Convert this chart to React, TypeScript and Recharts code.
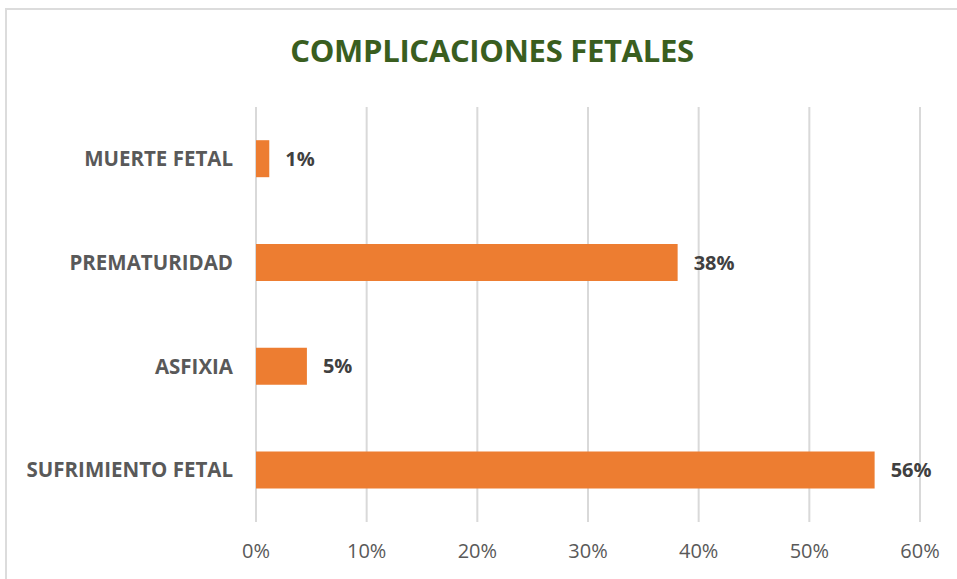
import React from 'react';
import { BarChart, Bar, XAxis, YAxis, CartesianGrid, LabelList } from 'recharts';

const categories = ['MUERTE FETAL', 'PREMATURIDAD', 'ASFIXIA', 'SUFRIMIENTO FETAL'];
const values = [1.2, 38.1, 4.6, 55.9];
const valueLabels = ['1%', '38%', '5%', '56%'];
const xTicks = [0, 10, 20, 30, 40, 50, 60];

const data = categories.map((name, i) => ({ name, value: values[i], label: valueLabels[i] }));

const FONT = '"Open Sans", Arial, sans-serif';

const App: React.FC = () => {
  return (
    <div style={{ position: 'absolute', left: 0, top: 0, width: 957, height: 579, background: '#fff', fontFamily: FONT }}>
      <div
        style={{
          position: 'absolute',
          left: 5,
          top: 8,
          width: 960,
          height: 580,
          border: '2px solid #dcdcdc',
          boxSizing: 'border-box',
        }}
      />
      <div
        style={{
          position: 'absolute',
          left: 0,
          top: 29,
          width: 984,
          textAlign: 'center',
          fontSize: 31,
          fontWeight: 'bold',
          color: '#3a5e1f',
          letterSpacing: -0.3,
        }}
      >
        COMPLICACIONES FETALES
      </div>
      <div style={{ position: 'absolute', left: 0, top: 0 }}>
        <BarChart
          width={957}
          height={579}
          data={data}
          layout="vertical"
          margin={{ top: 107, right: 37, bottom: 0, left: 16 }}
          barCategoryGap="32%"
        >
          <CartesianGrid horizontal={false} stroke="#d9d9d9" strokeWidth={2} />
          <XAxis
            type="number"
            domain={[0, 60]}
            ticks={xTicks}
            tickFormatter={(v: number) => `${v}%`}
            axisLine={false}
            tickLine={false}
            height={57}
            tickMargin={16}
            tick={{ fill: '#595959', fontSize: 20, fontFamily: FONT }}
          />
          <YAxis
            type="category"
            dataKey="name"
            width={240}
            axisLine={false}
            tickLine={false}
            tickMargin={17}
            tick={{ fill: '#595959', fontSize: 20.5, fontWeight: 'bold', fontFamily: FONT }}
          />
          <Bar dataKey="value" fill="#ed7d31" isAnimationActive={false}>
            <LabelList
              dataKey="label"
              position="right"
              offset={16}
              fill="#404040"
              fontSize={20}
              fontWeight="bold"
              fontFamily={FONT}
            />
          </Bar>
        </BarChart>
      </div>
    </div>
  );
};

export default App;
